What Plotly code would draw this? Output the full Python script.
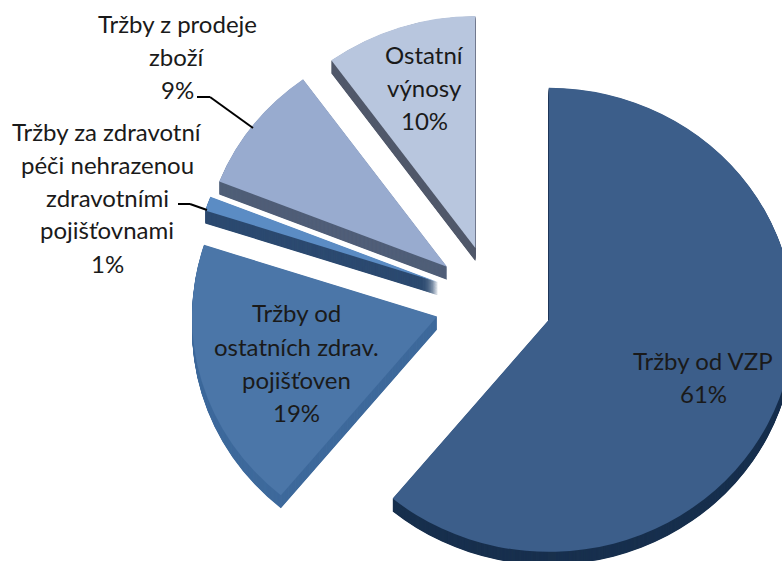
import plotly.graph_objects as go

categories = ["Tržby od VZP", "Tržby od ostatních zdrav. pojišťoven",
              "Tržby za zdravotní péči nehrazenou zdravotními pojišťovnami",
              "Tržby z prodeje zboží", "Ostatní výnosy"]
values = [61, 19, 1, 9, 10]
face_colors = ["#3c5e8a", "#4b76a8", "#5b8cc4", "#98abcf", "#b8c6de"]
side_colors = ["#18304e", "#3f6a9c", "#2c4a70", "#505f78", "#50586a"]
label_lines = [
    ["Tržby od VZP"],
    ["Tržby od", "ostatních zdrav.", "pojišťoven"],
    ["Tržby za zdravotní", "péči nehrazenou", "zdravotními", "pojišťovnami"],
    ["Tržby z prodeje", "zboží"],
    ["Ostatní", "výnosy"],
]
label_pos = [(703, 360), (296, 313), (107, 131), (177, 24), (424, 55)]
pitch = 33

W, H = 800, 610
CX, CY, R, PULL = 493.5, 301, 232, 0.24
STRETCH = 1.056
half = R * (1 + PULL)


def domain(dy):
    return dict(x=[(CX - half) / W, (CX + half) / W],
                y=[1 - (CY + half + dy) / H, 1 - (CY - half + dy) / H])


fig = go.Figure()
for step in range(26, 0, -1):
    fig.add_trace(go.Pie(values=values, labels=categories, sort=False, direction="clockwise",
                         rotation=0, pull=PULL, textinfo="none", hoverinfo="skip", showlegend=False,
                         marker=dict(colors=side_colors, line=dict(width=0)), domain=domain(step / 2)))
fig.add_trace(go.Pie(values=values, labels=categories, sort=False, direction="clockwise",
                     rotation=0, pull=PULL, textinfo="none", showlegend=False,
                     marker=dict(colors=face_colors, line=dict(width=0)), domain=domain(0)))

annotations = []
for lines, v, (x, y) in zip(label_lines, values, label_pos):
    for i, t in enumerate(lines + [f"{v}%"]):
        annotations.append(dict(x=x / W, y=1 - (y + i * pitch) / H, xref="paper", yref="paper",
                                text=t, showarrow=False, xanchor="center", yanchor="middle",
                                font=dict(family="Lato", size=24, color="#1a1a1a")))

leaders = [[(197, 97), (210, 97), (253, 128)], [(178, 204), (190, 204), (207, 210)]]
shapes = []
for pts in leaders:
    for (x0, y0), (x1, y1) in zip(pts, pts[1:]):
        shapes.append(dict(type="line", xref="paper", yref="paper",
                           x0=x0 / W, x1=x1 / W, y0=1 - y0 / H, y1=1 - y1 / H,
                           line=dict(color="#000000", width=2)))

fig.update_layout(width=W, height=H, margin=dict(l=0, r=0, t=0, b=0), paper_bgcolor="white",
                  annotations=annotations, shapes=shapes, showlegend=False)
post = ("document.documentElement.style.overflow='hidden';document.body.style.overflow='hidden';"
        "document.body.style.margin='0';"
        "document.querySelectorAll('.pielayer').forEach(function(g){g.setAttribute('transform',"
        f"'translate({CX},0) scale({STRETCH},1) translate({-CX},0)');}});")
fig.write_html("out.html", config={"displayModeBar": False}, post_script=post)
